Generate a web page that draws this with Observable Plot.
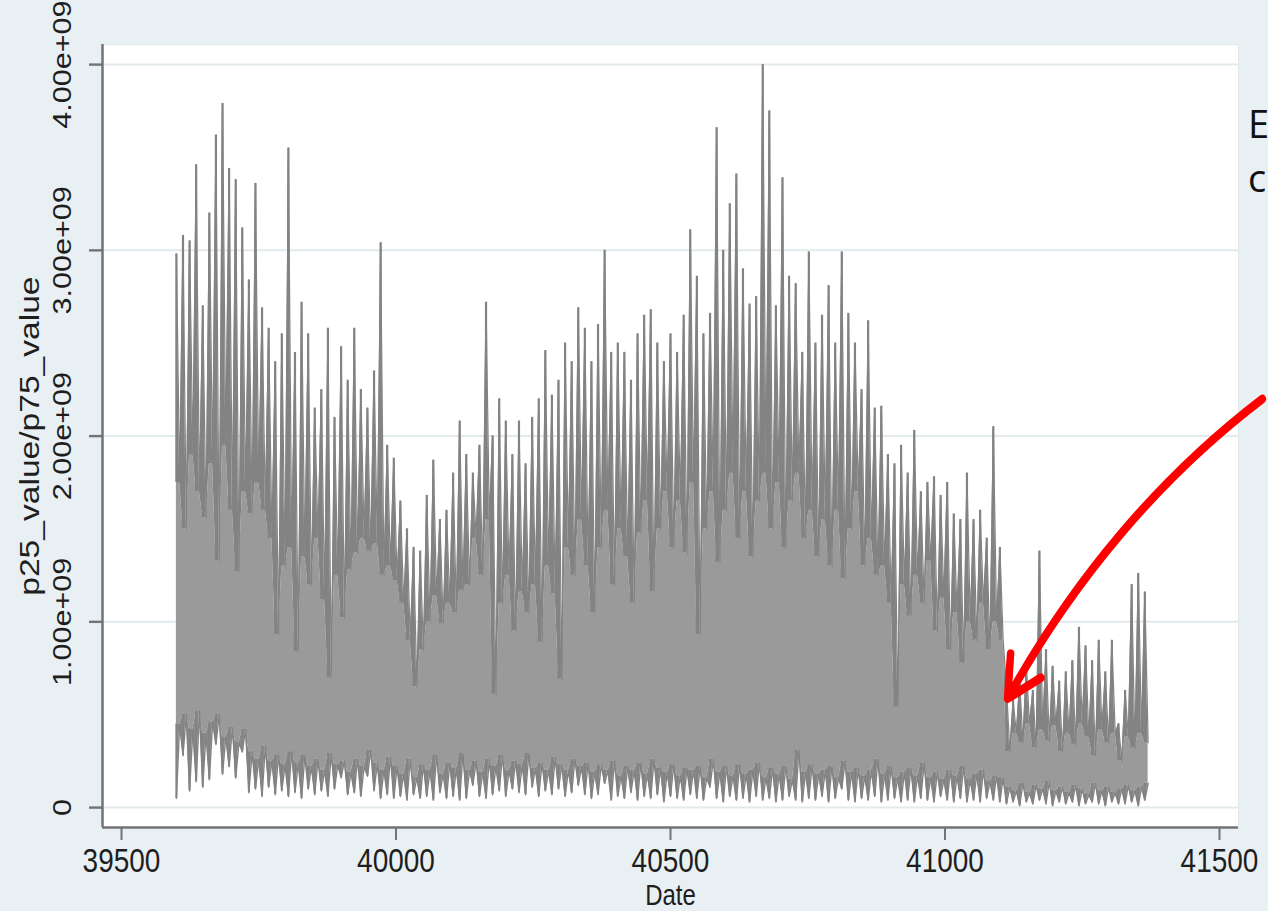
<!DOCTYPE html>
<html>
<head>
<meta charset="utf-8">
<script src="https://cdn.jsdelivr.net/npm/d3@7"></script>
<script src="https://cdn.jsdelivr.net/npm/@observablehq/plot@0.6"></script>
<style>
  html, body { margin: 0; padding: 0; width: 1268px; height: 911px; overflow: hidden; background: #e9f0f3; }
  #chart { position: absolute; left: 0; top: 0; }
  #chart svg { transform: scaleY(1.2); transform-origin: 0 0; display: block; }
  .slide { position: absolute; left: 1248px; font-family: "Open Sans", "Noto Sans", sans-serif; font-size: 38px; line-height: 1; color: #111111; white-space: nowrap; }
</style>
</head>
<body>
<div id="chart"></div>
<div class="slide" style="top:104px">E</div>
<div class="slide" style="top:158px">c</div>
<script>
// ---- data (values in units of 1e8) ----
const dateStart = 39600;   // first observation (Stata daily date)
const dateStep = 12;       // sampling step of the readings, in days

// upper series (p75): spike tops
const p75Hi = [
  29.8, 30.8, 30.5, 34.6, 27.0, 32.0, 36.2, 37.9, 34.4, 33.8,
  31.2, 28.4, 33.6, 26.9, 25.8, 24.0, 25.5, 35.5, 24.5, 27.2,
  25.5, 21.5, 22.5, 25.8, 21.0, 24.8, 23.0, 25.8, 22.5, 21.5,
  23.5, 30.4, 19.5, 18.8, 16.5, 15.0, 14.0, 13.8, 16.8, 18.7,
  15.5, 16.0, 18.0, 20.8, 19.0, 18.0, 19.5, 27.2, 20.0, 22.0,
  20.8, 19.0, 20.8, 18.5, 21.0, 22.0, 24.6, 22.2, 23.0, 25.0,
  24.0, 26.9, 25.8, 24.0, 26.0, 30.0, 24.5, 25.0, 24.5, 23.0,
  25.5, 26.5, 26.8, 25.0, 24.0, 25.5, 24.5, 26.5, 31.1, 28.6,
  25.5, 26.6, 36.6, 30.0, 32.5, 34.1, 29.0, 27.1, 27.5, 40.0,
  37.5, 27.0, 33.9, 28.6, 28.2, 24.5, 29.9, 25.0, 26.5, 28.1,
  25.0, 29.9, 26.6, 25.0, 22.5, 26.2, 21.5, 21.6, 19.0, 18.5,
  19.5, 18.0, 20.3, 17.0, 17.5, 17.8, 16.8, 17.5, 15.8, 15.5,
  18.0, 15.5, 16.0, 14.5, 20.5, 14.0, 6.5, 5.8, 6.8, 7.6,
  6.3, 13.8, 8.5, 7.6, 6.8, 7.3, 7.9, 9.7, 8.7, 7.9,
  9.0, 7.3, 9.0, 4.5, 6.3, 12.0, 12.6, 11.6
];
// upper series (p75): troughs between spikes
const p75Lo = [
  17.5, 15.0, 19.0, 17.0, 15.6, 18.5, 13.3, 19.5, 16.0, 12.7,
  17.0, 15.8, 17.5, 16.0, 14.5, 9.3, 13.0, 14.0, 8.4, 13.5,
  12.0, 14.5, 11.2, 7.0, 12.5, 10.2, 12.8, 13.7, 14.5, 13.8,
  14.2, 12.5, 13.0, 12.2, 11.0, 9.0, 6.5, 8.5, 10.0, 11.4,
  9.9, 11.0, 10.5, 11.7, 12.0, 14.5, 12.5, 15.5, 6.1, 11.0,
  12.5, 9.5, 11.6, 10.5, 12.0, 8.9, 13.0, 11.5, 6.9, 14.0,
  12.5, 15.5, 13.0, 10.5, 14.0, 16.0, 12.0, 15.0, 13.5, 11.0,
  14.8, 16.5, 11.6, 15.0, 17.0, 14.0, 16.5, 13.7, 17.5, 9.3,
  15.0, 17.0, 13.2, 16.0, 18.0, 14.5, 17.0, 13.5, 16.5, 18.0,
  15.0, 17.5, 14.0, 16.5, 18.0, 14.5, 16.0, 13.5, 15.5, 13.0,
  16.0, 12.3, 15.0, 17.0, 13.0, 14.5, 12.5, 13.0, 11.0, 5.4,
  12.0, 10.3, 12.5, 11.0, 13.3, 9.5, 11.3, 8.5, 10.5, 7.8,
  10.0, 9.0, 11.0, 8.5, 10.0, 9.0, 3.0, 4.0, 3.5, 4.5,
  3.2, 4.2, 3.6, 4.4, 3.0, 4.0, 3.4, 4.5, 3.8, 2.8,
  4.2, 3.5, 4.0, 2.5, 3.8, 3.2, 4.0, 3.5
];
// lower series (p25): tops
const p25Hi = [
  4.5, 5.0, 4.2, 5.2, 4.0, 4.6, 5.0, 3.8, 4.3, 3.5,
  4.2, 3.0, 2.6, 3.3, 2.5, 2.8, 2.3, 3.0, 2.4, 2.8,
  2.2, 2.6, 2.0, 2.9, 2.3, 2.5, 1.9, 2.6, 2.2, 3.1,
  2.4, 2.0, 2.7, 2.2, 1.8, 2.6, 1.6, 2.3, 2.0, 2.8,
  1.8, 2.4, 2.1, 2.9, 2.0, 2.5, 1.9, 2.6, 2.2, 2.8,
  2.0, 2.5, 2.3, 2.9, 2.1, 2.4, 2.0, 2.7, 2.3, 2.0,
  2.6, 2.2, 2.4, 1.9, 2.3, 2.0, 2.5, 1.7, 2.2, 2.0,
  2.4, 1.8, 2.6, 2.1, 1.9, 2.3, 1.7, 2.1, 2.0, 2.2,
  1.6, 2.6, 1.9, 2.2, 1.7, 2.3, 1.8, 2.0, 2.4, 1.6,
  2.1, 1.8, 2.2, 1.5, 3.1, 1.9, 2.3, 1.8, 2.0, 2.2,
  1.6, 2.5, 1.9, 2.1, 1.7, 2.0, 2.6, 1.8, 2.2, 1.6,
  1.9, 2.1, 1.7, 2.4, 1.6, 1.9, 1.5, 2.0, 1.7, 2.2,
  1.5, 1.8, 2.0, 1.4, 1.7, 1.6, 1.1, 0.9, 1.3, 0.8,
  1.2, 1.0, 1.4, 0.9, 1.1, 0.8, 1.2, 1.0, 0.7, 1.3,
  0.9, 1.1, 0.8, 1.0, 1.2, 0.9, 1.1, 1.3
];
// lower series (p25): bottoms
const p25Lo = [
  0.5, 2.8, 0.9, 1.4, 1.1, 1.5, 3.4, 1.8, 2.2, 1.6,
  3.0, 0.8, 1.0, 0.6, 1.1, 0.7, 0.9, 0.6, 0.8, 0.5,
  1.0, 0.7, 0.9, 0.6, 1.0, 1.6, 0.7, 0.8, 0.6, 1.7,
  0.9, 0.5, 0.7, 0.5, 0.6, 0.4, 0.7, 0.5, 0.6, 0.4,
  0.8, 0.5, 0.6, 0.4, 0.5, 1.2, 0.6, 0.5, 0.7, 0.9,
  0.6, 1.0, 0.8, 0.7, 1.1, 0.6, 0.9, 0.7, 1.0, 0.6,
  0.8, 1.2, 0.7, 0.5, 0.7, 1.3, 0.4, 0.6, 0.5, 0.8,
  0.4, 0.6, 0.5, 0.7, 0.3, 0.6, 0.5, 0.4, 0.7, 0.5,
  0.4, 1.1, 0.5, 0.3, 0.6, 0.4, 0.5, 0.3, 0.6, 0.4,
  0.5, 0.3, 0.4, 0.6, 0.4, 0.3, 0.5, 0.4, 0.6, 0.3,
  0.5, 1.0, 0.4, 0.3, 0.5, 0.4, 0.6, 0.3, 0.4, 0.5,
  0.3, 0.4, 0.3, 0.5, 0.4, 0.3, 0.6, 0.4, 0.3, 0.5,
  0.3, 0.4, 0.3, 0.5, 0.4, 0.3, 0.2, 0.3, 0.1, 0.3,
  0.2, 0.4, 0.2, 0.1, 0.3, 0.2, 0.3, 0.1, 0.2, 0.3,
  0.2, 0.1, 0.3, 0.2, 0.2, 0.3, 0.1, 0.4
];

const xTicks = [39500, 40000, 40500, 41000, 41500];
const xTickLabels = ["39500", "40000", "40500", "41000", "41500"];
const yTicks = [0, 1e9, 2e9, 3e9, 4e9];
const yTickLabels = ["0", "1.00e+09", "2.00e+09", "3.00e+09", "4.00e+09"];
const xTitle = "Date";
const yTitle = "p25_value/p75_value";
const xDomain = [39465.4, 41534.6];
const yDomain = [-0.1077e9, 4.1077e9];
// annotation arrow (data coordinates)
const arrowFrom = [41578, 2.2e9];
const arrowTo = [41114, 0.587e9];

// ---- tables built from the arrays ----
const unit = 1e8;
const rows = p75Hi.map((v, i) => ({
  date: dateStart + dateStep * i,
  hi: v * unit, lo: p75Lo[i] * unit,
  bHi: p25Hi[i] * unit, bLo: p25Lo[i] * unit
}));
const pts = rows.flatMap(r => [
  {date: r.date, up: r.hi, base: r.lo, floor: r.bHi, low: r.bLo},
  {date: r.date + dateStep / 2, up: r.lo, base: r.lo, floor: r.bHi, low: r.bHi}
]);

const light = "#9a9a9a";
const dark = "#838383";
const axisColor = "#737373";
const textColor = "#1e1e1e";

// the original graphic is stretched vertically by this factor
const stretch = 1.2;

const chart = Plot.plot({
  width: 1268,
  height: 911 / stretch,
  marginLeft: 102,
  marginRight: 30,
  marginTop: 44 / stretch,
  marginBottom: 84 / stretch,
  style: {background: "transparent", fontFamily: "'Liberation Sans', Arial, sans-serif", overflow: "visible"},
  x: {domain: xDomain},
  y: {domain: yDomain},
  marks: [
    Plot.frame({fill: "white", stroke: "#e0e8ec"}),
    Plot.gridY(yTicks, {stroke: "#e2eaee", strokeOpacity: 1, strokeWidth: 1.7}),
    // body between the two series
    Plot.areaY(pts, {x: "date", y1: "floor", y2: "base", fill: light}),
    Plot.areaY(pts, {x: "date", y1: "low", y2: "floor", fill: "#8a8a8a"}),
    // p75 spikes
    Plot.areaY(pts, {x: "date", y1: "base", y2: "up", fill: dark}),
    Plot.ruleX(rows, {x: "date", y1: "lo", y2: "hi", stroke: dark, strokeWidth: 2.2}),
    Plot.line(pts, {x: "date", y: "up", stroke: dark, strokeWidth: 1.2}),
    // p25 line
    Plot.ruleX(rows, {x: "date", y1: "bLo", y2: "bHi", stroke: dark, strokeWidth: 2}),
    Plot.line(pts, {x: "date", y: "low", stroke: dark, strokeWidth: 1.4}),
    // axes
    Plot.ruleX([xDomain[0]], {stroke: axisColor, strokeWidth: 2.5}),
    Plot.ruleY([yDomain[0]], {stroke: axisColor, strokeWidth: 2.1}),
    Plot.axisX({ticks: xTicks, tickSize: 13 / stretch, tickPadding: 5.95, tickFormat: d => xTickLabels[xTicks.indexOf(d)],
      fontSize: 28, color: textColor, stroke: axisColor, strokeWidth: 2, label: null}),
    Plot.axisY({ticks: yTicks, tickSize: 13, tickPadding: 19, tickRotate: -90, tickFormat: d => yTickLabels[yTicks.indexOf(d)],
      fontSize: 25.5, color: textColor, stroke: axisColor, strokeWidth: 2, label: null}),
    Plot.text([xTitle], {text: d => d, frameAnchor: "bottom", dy: 64.2, lineAnchor: "bottom", fontSize: 24, fill: textColor}),
    Plot.text([yTitle], {text: d => d, frameAnchor: "left", dx: -64, rotate: -90, textAnchor: "middle", lineAnchor: "bottom", fontSize: 28, fill: textColor}),
    // annotation arrow
    Plot.arrow([{x1: arrowFrom[0], y1: arrowFrom[1], x2: arrowTo[0], y2: arrowTo[1]}],
      {x1: "x1", y1: "y1", x2: "x2", y2: "y2", bend: -12, stroke: "#ff0000", strokeWidth: 7.5, headLength: 7.5, headAngle: 58})
  ]
});
document.getElementById("chart").appendChild(chart);
</script>
</body>
</html>
